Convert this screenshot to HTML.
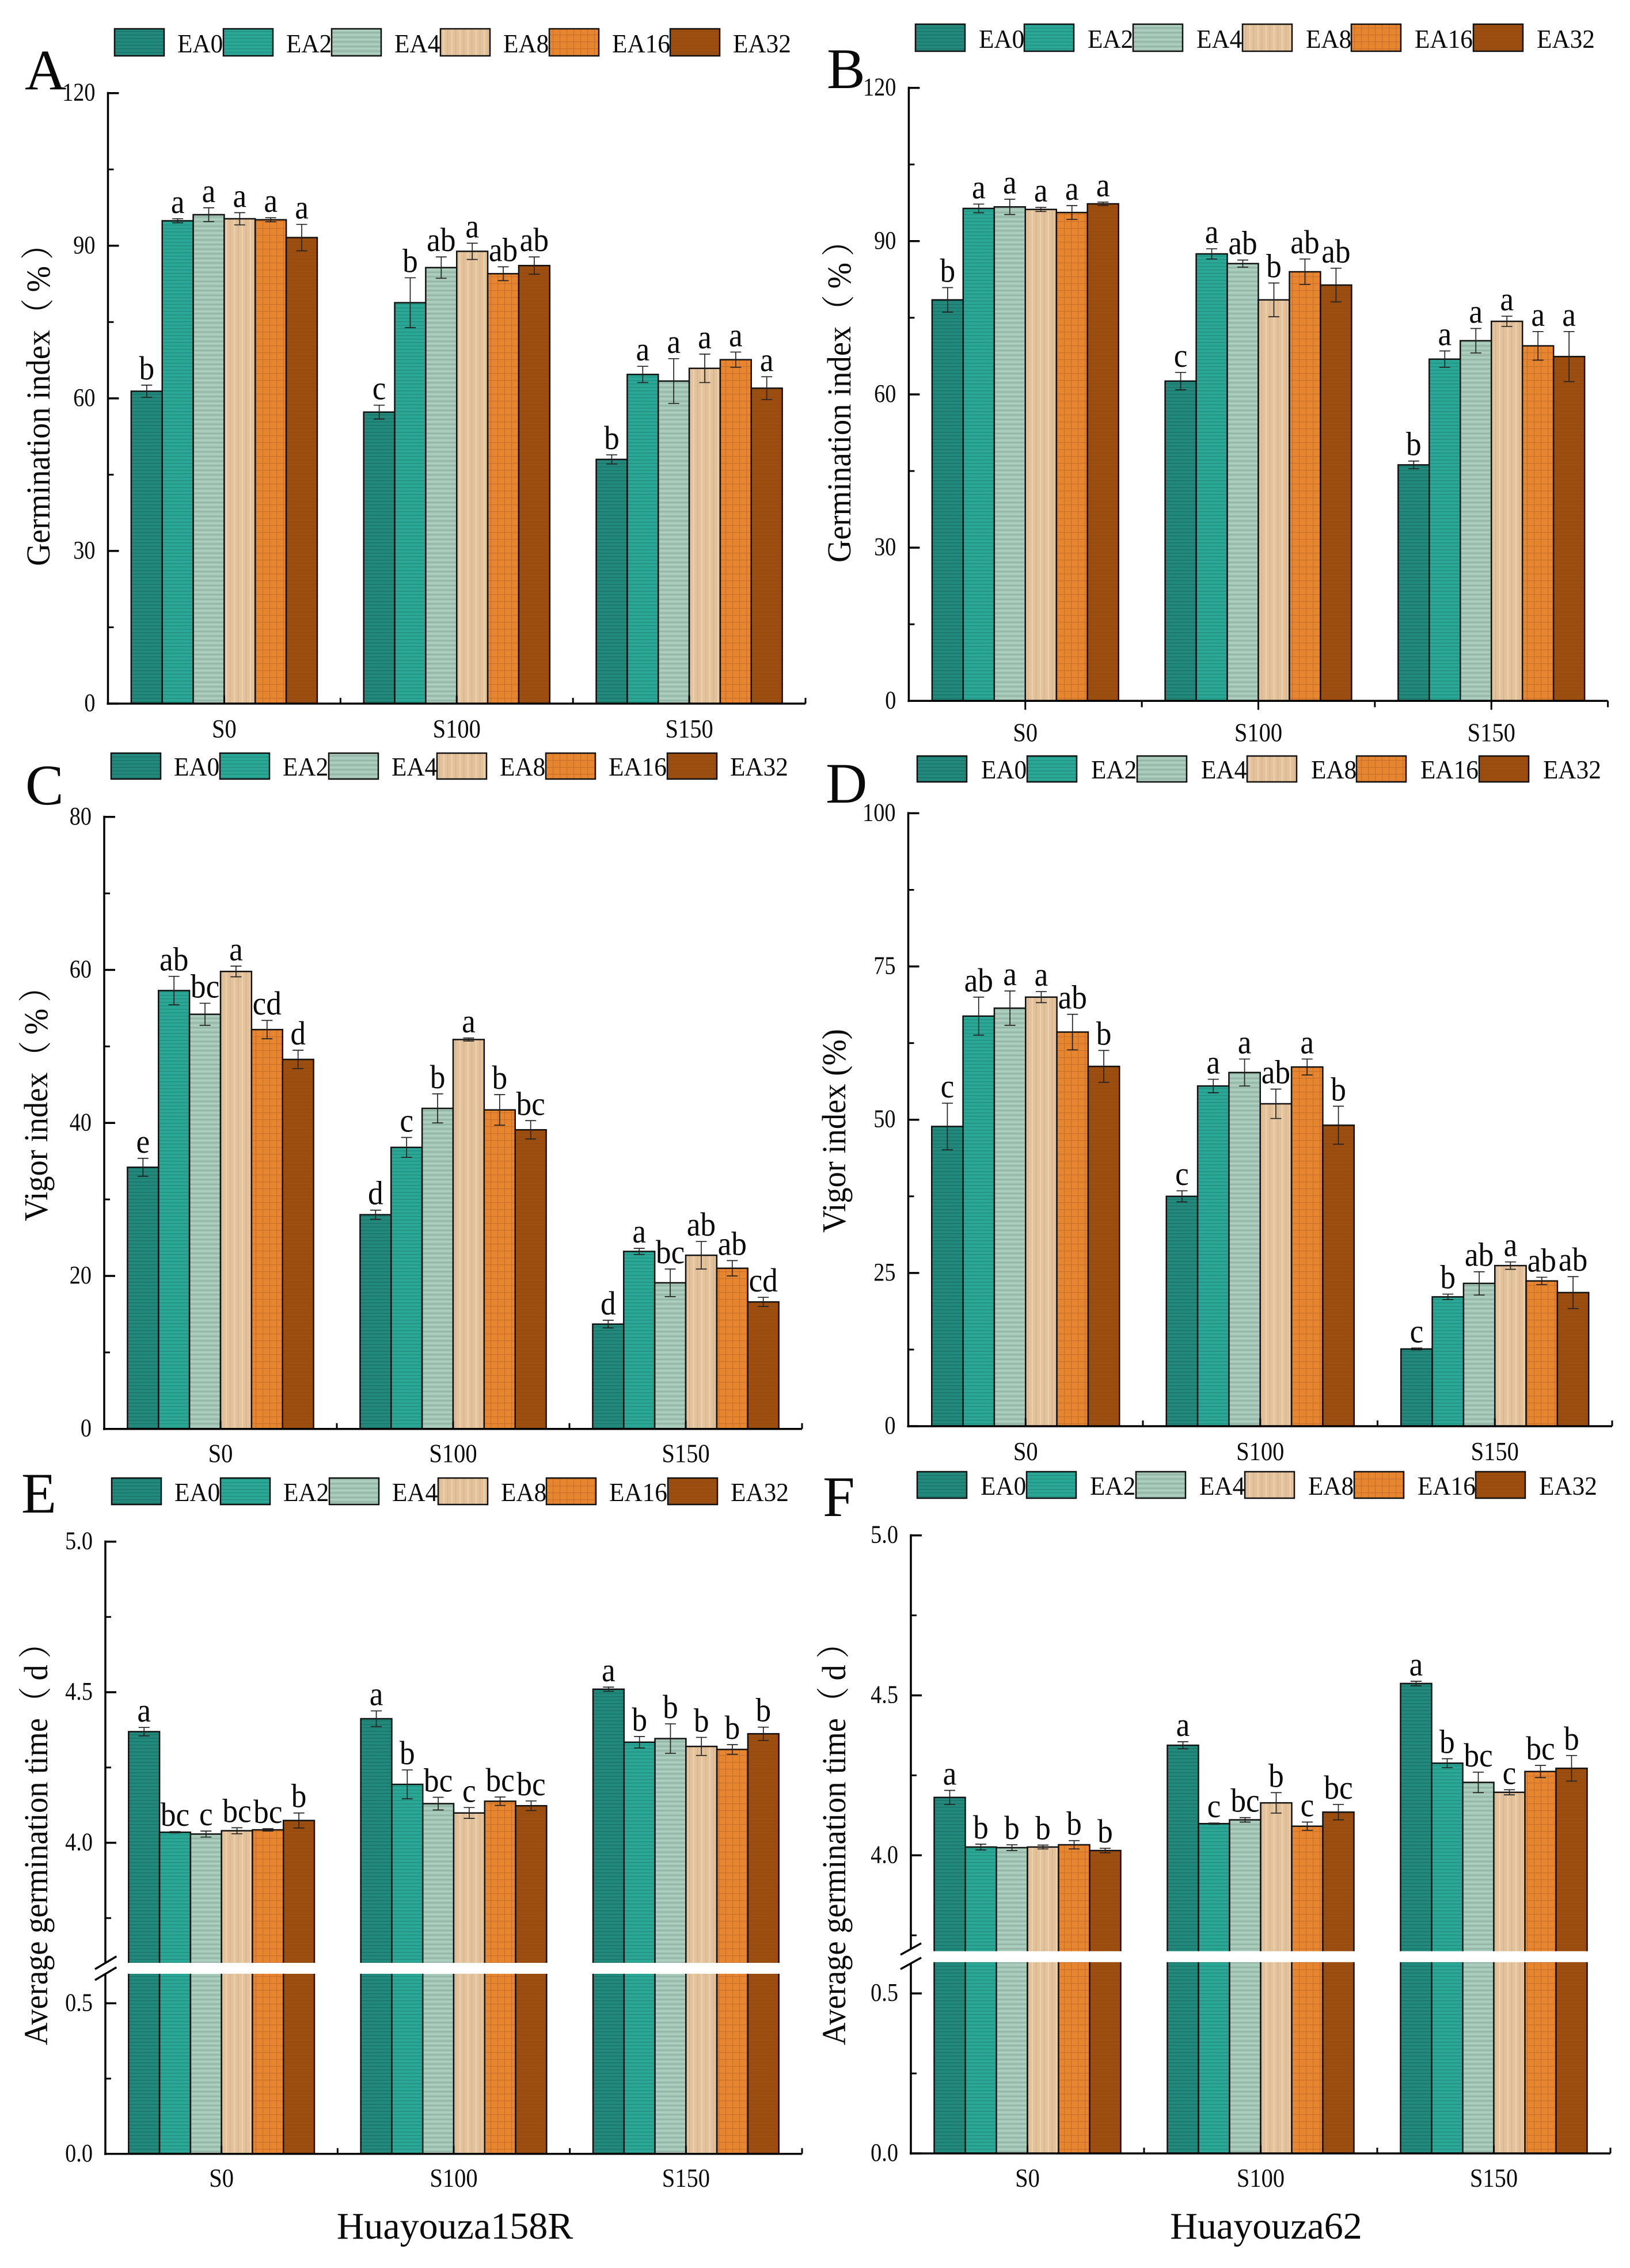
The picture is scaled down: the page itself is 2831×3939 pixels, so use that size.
<!DOCTYPE html>
<html lang="en">
<head>
<meta charset="utf-8">
<title>Germination and vigor index panels</title>
<style>
html,body{margin:0;padding:0;background:#fff;}
svg{display:block;}
text{font-family:"Liberation Serif","Noto Serif CJK SC",serif;fill:#0a0a0a;}
</style>
</head>
<body>
<svg id="figure" xmlns="http://www.w3.org/2000/svg" width="2831" height="3939" viewBox="0 0 2831 3939">
  <defs>
    <pattern id="fill-0" patternUnits="userSpaceOnUse" width="6" height="6">
      <rect width="6" height="6" fill="#23897c"/><rect y="0" width="6" height="1.5" fill="#1a7367"/>
    </pattern>
    <pattern id="fill-1" patternUnits="userSpaceOnUse" width="6" height="6">
      <rect width="6" height="6" fill="#2aa797"/><rect y="0" width="6" height="1.5" fill="#22907f"/>
    </pattern>
    <pattern id="fill-2" patternUnits="userSpaceOnUse" width="8" height="8">
      <rect width="8" height="8" fill="#a4c6b6"/><rect y="0" width="8" height="1.5" fill="#8fb0a1"/><rect y="4" width="8" height="1.2" fill="#b6d6c6"/>
    </pattern>
    <pattern id="fill-3" patternUnits="userSpaceOnUse" width="14" height="6">
      <rect width="14" height="6" fill="#e2c19b"/><rect x="0" width="1.5" height="6" fill="#f0d7b4"/><rect x="7" width="1.2" height="6" fill="#d4b189"/>
    </pattern>
    <pattern id="fill-4" patternUnits="userSpaceOnUse" width="12" height="12">
      <rect width="12" height="12" fill="#e8852f"/><rect x="0" width="1.2" height="12" fill="#c9702a"/><rect y="0" width="12" height="1.2" fill="#c9702a"/>
    </pattern>
    <pattern id="fill-5" patternUnits="userSpaceOnUse" width="6" height="6">
      <rect width="6" height="6" fill="#9c4e10"/><rect y="0" width="6" height="1" fill="#94490e"/>
    </pattern>
  </defs>
</svg>
<script>
const seriesNames = ['EA0', 'EA2', 'EA4', 'EA8', 'EA16', 'EA32'];
const categoryNames = ['S0', 'S100', 'S150'];

const panelAValues = [[61.4, 94.9, 96.1, 95.3, 95.1, 91.6], [57.3, 78.8, 85.7, 88.9, 84.5, 86.1], [48.0, 64.7, 63.4, 65.9, 67.6, 62.0]];
const panelAErrors = [[1.2, 0.4, 1.36, 1.2, 0.4, 2.6], [1.36, 4.9, 2.1, 1.6, 1.36, 1.7], [0.9, 1.6, 4.4, 2.8, 1.5, 2.25]];
const panelALetters = [['b', 'a', 'a', 'a', 'a', 'a'], ['c', 'b', 'ab', 'a', 'ab', 'ab'], ['b', 'a', 'a', 'a', 'a', 'a']];
const panelATicks = [0, 30, 60, 90, 120];
const panelATickLabels = ['0', '30', '60', '90', '120'];
const panelAMinorTicks = [15, 45, 75, 105];

const panelBValues = [[78.5, 96.4, 96.7, 96.2, 95.6, 97.3], [62.6, 87.5, 85.6, 78.5, 84.0, 81.4], [46.2, 66.9, 70.5, 74.3, 69.5, 67.4]];
const panelBErrors = [[2.4, 0.85, 1.5, 0.4, 1.35, 0.33], [1.7, 1.0, 0.7, 3.3, 2.5, 3.3], [0.75, 1.6, 2.4, 1.0, 2.8, 4.9]];
const panelBLetters = [['b', 'a', 'a', 'a', 'a', 'a'], ['c', 'a', 'ab', 'b', 'ab', 'ab'], ['b', 'a', 'a', 'a', 'a', 'a']];
const panelBTicks = [0, 30, 60, 90, 120];
const panelBTickLabels = ['0', '30', '60', '90', '120'];
const panelBMinorTicks = [15, 45, 75, 105];

const panelCValues = [[34.2, 57.3, 54.2, 59.8, 52.2, 48.3], [28.0, 36.8, 41.9, 50.9, 41.7, 39.1], [13.7, 23.2, 19.1, 22.7, 21.0, 16.6]];
const panelCErrors = [[1.17, 1.86, 1.44, 0.7, 1.2, 1.2], [0.6, 1.3, 1.9, 0.2, 2.0, 1.2], [0.5, 0.4, 1.8, 1.8, 1.0, 0.6]];
const panelCLetters = [['e', 'ab', 'bc', 'a', 'cd', 'd'], ['d', 'c', 'b', 'a', 'b', 'bc'], ['d', 'a', 'bc', 'ab', 'ab', 'cd']];
const panelCTicks = [0, 20, 40, 60, 80];
const panelCTickLabels = ['0', '20', '40', '60', '80'];
const panelCMinorTicks = [10, 30, 50, 70];

const panelDValues = [[48.9, 66.9, 68.2, 70.0, 64.3, 58.7], [37.5, 55.5, 57.7, 52.6, 58.6, 49.1], [12.6, 21.1, 23.3, 26.2, 23.7, 21.8]];
const panelDErrors = [[3.8, 3.1, 2.8, 0.9, 2.9, 2.6], [0.9, 1.1, 2.2, 2.4, 1.3, 3.1], [0.15, 0.45, 1.9, 0.6, 0.6, 2.6]];
const panelDLetters = [['c', 'ab', 'a', 'a', 'ab', 'b'], ['c', 'a', 'a', 'ab', 'a', 'b'], ['c', 'b', 'ab', 'a', 'ab', 'ab']];
const panelDTicks = [0, 25, 50, 75, 100];
const panelDTickLabels = ['0', '25', '50', '75', '100'];
const panelDMinorTicks = [12.5, 37.5, 62.5, 87.5];

const panelEValues = [[4.369, 4.035, 4.029, 4.04, 4.043, 4.074], [4.412, 4.194, 4.13, 4.099, 4.138, 4.123], [4.51, 4.334, 4.346, 4.32, 4.31, 4.362]];
const panelEErrors = [[0.014, 0.002, 0.01, 0.01, 0.004, 0.025], [0.026, 0.048, 0.021, 0.018, 0.014, 0.016], [0.007, 0.019, 0.049, 0.03, 0.016, 0.022]];
const panelELetters = [['a', 'bc', 'c', 'bc', 'bc', 'b'], ['a', 'b', 'bc', 'c', 'bc', 'bc'], ['a', 'b', 'b', 'b', 'b', 'b']];
const panelETicks = [0, 0.5, 4, 4.5, 5];
const panelETickLabels = ['0.0', '0.5', '4.0', '4.5', '5.0'];
const panelEMinorTicks = [0.25, 3.75, 4.25, 4.75];

const panelFValues = [[4.181, 4.026, 4.024, 4.026, 4.033, 4.015], [4.344, 4.099, 4.111, 4.164, 4.091, 4.135], [4.537, 4.288, 4.228, 4.197, 4.262, 4.272]];
const panelFErrors = [[0.022, 0.009, 0.009, 0.006, 0.013, 0.007], [0.011, 0.002, 0.007, 0.032, 0.013, 0.024], [0.007, 0.014, 0.032, 0.008, 0.019, 0.04]];
const panelFLetters = [['a', 'b', 'b', 'b', 'b', 'b'], ['a', 'c', 'bc', 'b', 'c', 'bc'], ['a', 'b', 'bc', 'c', 'bc', 'b']];
const panelFTicks = [0, 0.5, 4, 4.5, 5];
const panelFTickLabels = ['0.0', '0.5', '4.0', '4.5', '5.0'];
const panelFMinorTicks = [0.25, 3.75, 4.25, 4.75];

const SVGNS = 'http://www.w3.org/2000/svg';
const root = document.getElementById('figure');

function makeNode(parent, tag, attrs) {
  const n = document.createElementNS(SVGNS, tag);
  for (const k in attrs) n.setAttribute(k, attrs[k]);
  parent.appendChild(n);
  return n;
}

function makeText(parent, str, x, y, size, sx, anchor, rot) {
  const n = makeNode(parent, 'text', {
    transform: 'translate(' + x + ',' + y + ') rotate(' + (rot || 0) + ') scale(' + sx + ',1)',
    'font-size': size,
    'text-anchor': anchor
  });
  n.textContent = str;
  return n;
}

function makeLine(parent, x1, y1, x2, y2, width, color) {
  return makeNode(parent, 'line', { x1: x1, y1: y1, x2: x2, y2: y2, stroke: color, 'stroke-width': width });
}

const panels = [
  { key: 'a', letter: 'A', letterX: 43, letterY: 155, values: panelAValues, errors: panelAErrors, letters: panelALetters,
    ticks: panelATicks, labels: panelATickLabels, minor: panelAMinorTicks,
    axisX: 187.5, axisRight: 1399, y0: 1222, yTop: 161.7, yMax: 120, xLabelDy: 59, ticksDown: false,
    legendX: 199, legendY: 50, legendH: 47, legendStep: [0, 189, 377, 566, 755, 965], legendTextDx: 109,
    title: 'Germination index（\u2009%\u2009）', titleX: 86, titleY: 983 },
  { key: 'b', letter: 'B', letterX: 1436, letterY: 153, values: panelBValues, errors: panelBErrors, letters: panelBLetters,
    ticks: panelBTicks, labels: panelBTickLabels, minor: panelBMinorTicks,
    axisX: 1578.4, axisRight: 2792.6, y0: 1217.3, yTop: 152.6, yMax: 120, xLabelDy: 70, ticksDown: true,
    legendX: 1590, legendY: 42, legendH: 47, legendStep: [0, 189, 378, 568, 757, 969], legendTextDx: 110,
    title: 'Germination index（\u2009%\u2009）', titleX: 1477, titleY: 977 },
  { key: 'c', letter: 'C', letterX: 44, letterY: 1397, values: panelCValues, errors: panelCErrors, letters: panelCLetters,
    ticks: panelCTicks, labels: panelCTickLabels, minor: panelCMinorTicks,
    axisX: 181, axisRight: 1393, y0: 2481.7, yTop: 1418.8, yMax: 80, xLabelDy: 58, ticksDown: false,
    legendX: 193, legendY: 1308, legendH: 45, legendStep: [0, 189, 378, 566, 755, 966], legendTextDx: 109,
    title: 'Vigor index（\u2009%\u2009）', titleX: 82, titleY: 2121 },
  { key: 'd', letter: 'D', letterX: 1434, letterY: 1394, values: panelDValues, errors: panelDErrors, letters: panelDLetters,
    ticks: panelDTicks, labels: panelDTickLabels, minor: panelDMinorTicks,
    axisX: 1577.5, axisRight: 2800, y0: 2477, yTop: 1412.4, yMax: 100, xLabelDy: 59, ticksDown: false,
    legendX: 1593, legendY: 1313, legendH: 45, legendStep: [0, 191, 382, 573, 763, 976], legendTextDx: 111,
    title: 'Vigor index (%)', titleX: 1468, titleY: 2141 },
  { key: 'e', letter: 'E', letterX: 37, letterY: 2627, values: panelEValues, errors: panelEErrors, letters: panelELetters,
    ticks: panelETicks, labels: panelETickLabels, minor: panelEMinorTicks,
    axisX: 183, axisRight: 1393, y0: 3740.8, yTop: 2677.5, yRef: 3200.5, pxPerUnit: 523, xLabelDy: 57, ticksDown: false,
    gapTop: 3409, gapBottom: 3428, breakAt: 2,
    slash: [165, 3420, 202.3, 3397.7, 165, 3439, 202.3, 3416.7],
    legendX: 194, legendY: 2567, legendH: 46, legendStep: [0, 189, 378, 567, 755, 966], legendTextDx: 109,
    title: 'Average germination time（\u2009d\u2009）', titleX: 82, titleY: 3552 },
  { key: 'f', letter: 'F', letterX: 1429, letterY: 2633, values: panelFValues, errors: panelFErrors, letters: panelFLetters,
    ticks: panelFTicks, labels: panelFTickLabels, minor: panelFMinorTicks,
    axisX: 1582, axisRight: 2797, y0: 3740, yTop: 2666.6, yRef: 3222.3, pxPerUnit: 555.7, xLabelDy: 58, ticksDown: false,
    gapTop: 3388.8, gapBottom: 3407.8, breakAt: 2,
    slash: [1564, 3395, 1600, 3375, 1564, 3420, 1600, 3400],
    legendX: 1593, legendY: 2556, legendH: 46, legendStep: [0, 190, 380, 569, 759, 970], legendTextDx: 110,
    title: 'Average germination time（\u2009d\u2009）', titleX: 1468, titleY: 3552 }
];

function yScaleFor(p) {
  if (p.breakAt !== undefined) {
    return function (v) {
      return v >= p.breakAt ? p.yRef - (v - 4) * p.pxPerUnit : p.y0 - v * p.pxPerUnit;
    };
  }
  return function (v) {
    return p.y0 - (v / p.yMax) * (p.y0 - p.yTop);
  };
}

panels.forEach(function (p) {
  const g = makeNode(root, 'g', {});
  
  

  const y = yScaleFor(p);
  const catW = (p.axisRight - p.axisX) / categoryNames.length;
  const xCenter = function (i) { return p.axisX + catW * (i + 0.5); };
  const groupW = catW * 0.8;
  const barW = groupW / seriesNames.length;

  const panelLetter = makeText(g, p.letter, p.letterX, p.letterY, 100, 1, 'start', 0);
  
  

  // legend
  seriesNames.forEach(function (name, j) {
    const sx = p.legendX + p.legendStep[j];
    const swatch = makeNode(g, 'rect', { x: sx, y: p.legendY, width: 86, height: p.legendH, fill: 'url(#fill-' + j + ')', stroke: '#111', 'stroke-width': 2.5 });
    
    
    const label = makeText(g, name, sx + p.legendTextDx, p.legendY + p.legendH - 6, 46, 0.94, 'start', 0);
    
    
  });

  // bars
  categoryNames.forEach(function (cat, i) {
    const left = xCenter(i) - groupW / 2;
    seriesNames.forEach(function (name, j) {
      const v = p.values[i][j];
      const top = y(v);
      const bar = makeNode(g, 'rect', { x: left + j * barW, y: top, width: barW, height: p.y0 - top, fill: 'url(#fill-' + j + ')', stroke: '#111', 'stroke-width': 2.5 });
      
      
    });
    if (p.breakAt !== undefined) {
      const gap = makeNode(g, 'rect', { x: left - 4, y: p.gapTop, width: groupW + 8, height: p.gapBottom - p.gapTop, fill: '#fff' });
      
      
    }
    seriesNames.forEach(function (name, j) {
      const v = p.values[i][j];
      const e = p.errors[i][j];
      const cx = left + (j + 0.5) * barW;
      const hi = y(v + e);
      const lo = y(v - e);
      const err = makeNode(g, 'path', {
        d: 'M' + cx + ' ' + hi + 'V' + lo + 'M' + (cx - 9.5) + ' ' + hi + 'H' + (cx + 9.5) + 'M' + (cx - 9.5) + ' ' + lo + 'H' + (cx + 9.5),
        fill: 'none', stroke: '#222', 'stroke-width': 1.7
      });
      
      
      const sig = makeText(g, p.letters[i][j], cx, hi - 10, 58, 0.92, 'middle', 0);
      
      
    });
    const xLabel = makeText(g, cat, xCenter(i), p.y0 + p.xLabelDy, 45, 0.9, 'middle', 0);
    
    
  });

  // y axis
  if (p.breakAt !== undefined) {
    const upperAxis = makeLine(g, p.axisX, p.yTop - 2, p.axisX, (p.slash[1] + p.slash[3]) / 2, 3.5, '#000');
    
    
    const lowerAxis = makeLine(g, p.axisX, (p.slash[5] + p.slash[7]) / 2, p.axisX, p.y0 + 2, 3.5, '#000');
    
    
    const slashA = makeLine(g, p.slash[0], p.slash[1], p.slash[2], p.slash[3], 3.5, '#000');
    
    
    const slashB = makeLine(g, p.slash[4], p.slash[5], p.slash[6], p.slash[7], 3.5, '#000');
    
    
  } else {
    const yAxis = makeLine(g, p.axisX, p.yTop - 2, p.axisX, p.y0 + 2, 3.5, '#000');
    
    
  }

  p.ticks.forEach(function (t, k) {
    const ty = y(t);
    const tick = makeLine(g, p.axisX, ty, p.axisX + 19, ty, 3.5, '#000');
    
    
    const tl = makeText(g, p.labels[k], p.axisX - 22, ty + 13, 44, 0.87, 'end', 0);
    
    
  });
  p.minor.forEach(function (t) {
    const ty = y(t);
    const tick = makeLine(g, p.axisX, ty, p.axisX + 10, ty, 3, '#000');
    
    
  });

  // x axis
  const xAxis = makeLine(g, p.axisX - 2, p.y0, p.axisRight, p.y0, 3.5, '#000');
  
  
  const tickDir = p.ticksDown ? 11 : -10;
  categoryNames.forEach(function (cat, i) {
    const boundary = makeLine(g, p.axisX + catW * (i + 1), p.y0, p.axisX + catW * (i + 1), p.y0 + tickDir, 3, '#000');
    
    
    const centerTick = makeLine(g, xCenter(i), p.y0, xCenter(i), p.y0 + tickDir * 1.4, 3, '#000');
    
    
  });

  const yTitle = makeText(g, p.title, p.titleX, p.titleY, 58, 0.94, 'start', -90);
  
  
});

const captionLeft = makeText(root, 'Huayouza158R', 790, 3888, 66, 1, 'middle', 0);


const captionRight = makeText(root, 'Huayouza62', 2199, 3888, 66, 1, 'middle', 0);


</script>
</body>
</html>
